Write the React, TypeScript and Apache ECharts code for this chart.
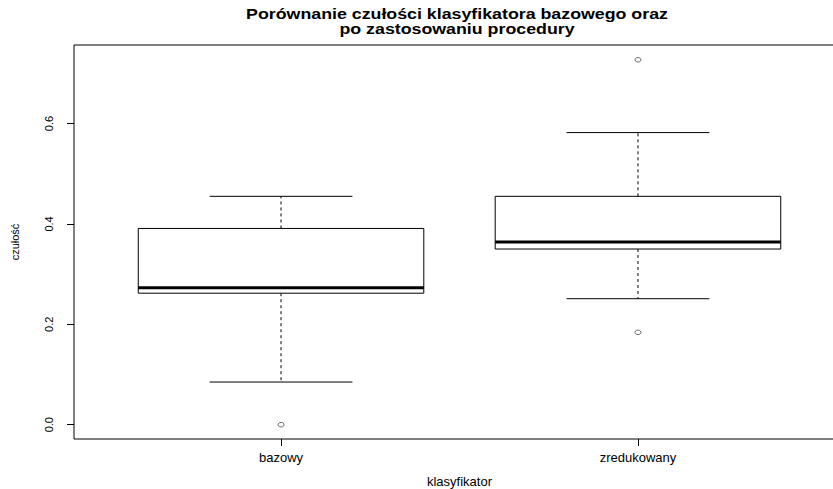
import React, { useEffect, useRef } from "react";
import * as echarts from "echarts";

const categories = ["bazowy", "zredukowany"];
const lowerWhisker = [0.085, 0.251];
const q1 = [0.262, 0.35];
const median = [0.273, 0.364];
const q3 = [0.391, 0.455];
const upperWhisker = [0.455, 0.582];
const outlierCategory = [0, 1, 1];
const outlierValue = [0.0, 0.184, 0.727];
const yTicks = [0, 0.2, 0.4, 0.6];
const titleText = "Porównanie czułości klasyfikatora bazowego oraz\npo zastosowaniu procedury";
const xName = "klasyfikator";
const yName = "czułość";

const FONT = "'Liberation Sans', Arial, Helvetica, sans-serif";

export default function App() {
  const ref = useRef<HTMLDivElement>(null);

  useEffect(() => {
    if (!ref.current) return;
    const chart = echarts.init(ref.current, undefined, { renderer: "svg" });

    const boxData = categories.map((_, i) => [
      i + 1,
      lowerWhisker[i],
      q1[i],
      median[i],
      q3[i],
      upperWhisker[i],
    ]);
    const outlierData = outlierValue.map((v, k) => [outlierCategory[k] + 1, v]);

    const renderItem = (params: any, api: any) => {
      const x = api.value(0);
      const lw = api.value(1);
      const lq = api.value(2);
      const md = api.value(3);
      const uq = api.value(4);
      const uw = api.value(5);
      const pTL = api.coord([x - 0.4, uq]);
      const pBR = api.coord([x + 0.4, lq]);
      const pMdL = api.coord([x - 0.4, md]);
      const pMdR = api.coord([x + 0.4, md]);
      const pUq = api.coord([x, uq]);
      const pUw = api.coord([x, uw]);
      const pLq = api.coord([x, lq]);
      const pLw = api.coord([x, lw]);
      const capUL = api.coord([x - 0.2, uw]);
      const capUR = api.coord([x + 0.2, uw]);
      const capLL = api.coord([x - 0.2, lw]);
      const capLR = api.coord([x + 0.2, lw]);
      const solid = { stroke: "#000", lineWidth: 1, fill: "none" };
      const dashed = { stroke: "#000", lineWidth: 1, lineDash: [3, 3] };
      return {
        type: "group",
        children: [
          {
            type: "line",
            shape: { x1: pUq[0], y1: pUq[1], x2: pUw[0], y2: pUw[1] },
            style: dashed,
          },
          {
            type: "line",
            shape: { x1: pLq[0], y1: pLq[1], x2: pLw[0], y2: pLw[1] },
            style: dashed,
          },
          {
            type: "line",
            shape: { x1: capUL[0], y1: capUL[1], x2: capUR[0], y2: capUR[1] },
            style: solid,
          },
          {
            type: "line",
            shape: { x1: capLL[0], y1: capLL[1], x2: capLR[0], y2: capLR[1] },
            style: solid,
          },
          {
            type: "rect",
            shape: {
              x: pTL[0],
              y: pTL[1],
              width: pBR[0] - pTL[0],
              height: pBR[1] - pTL[1],
            },
            style: { stroke: "#000", lineWidth: 1, fill: "#fff" },
          },
          {
            type: "line",
            shape: { x1: pMdL[0], y1: pMdL[1], x2: pMdR[0], y2: pMdR[1] },
            style: { stroke: "#000", lineWidth: 3 },
          },
        ],
      };
    };

    chart.setOption({
      animation: false,
      backgroundColor: "#fff",
      textStyle: { fontFamily: FONT, color: "#000" },
      grid: {
        left: 74,
        top: 45,
        width: 771,
        height: 394,
        outerBoundsMode: "none",
        containLabel: false,
        show: true,
        borderColor: "#000",
        borderWidth: 1,
        backgroundColor: "transparent",
      },
      graphic: [
        {
          type: "text",
          x: 457,
          y: 7,
          scaleX: 1.27,
          style: {
            text: titleText,
            textAlign: "center",
            textVerticalAlign: "top",
            font: `bold 14px ${FONT}`,
            lineHeight: 15,
            fill: "#000",
          },
        },
      ],
      xAxis: {
        type: "value",
        min: 0.42,
        max: 2.58,
        name: xName,
        nameLocation: "middle",
        nameGap: 36,
        nameTextStyle: { fontSize: 13, color: "#000", fontFamily: FONT },
        axisLine: { show: false, onZero: false },
        splitLine: { show: false },
        axisTick: {
          show: true,
          customValues: [1, 2],
          length: 7,
          lineStyle: { color: "#000", width: 1 },
        },
        axisLabel: {
          customValues: [1, 2],
          formatter: (v: number) => categories[Math.round(v) - 1],
          fontSize: 13,
          color: "#000",
          margin: 12,
          fontFamily: FONT,
        },
      },
      yAxis: {
        type: "value",
        min: -0.0285,
        max: 0.7565,
        name: yName,
        nameLocation: "middle",
        nameRotate: 90,
        nameGap: 54,
        nameTextStyle: { fontSize: 11, color: "#000", fontFamily: FONT },
        axisLine: { show: false, onZero: false },
        splitLine: { show: false },
        axisTick: {
          show: true,
          customValues: yTicks,
          length: 7,
          lineStyle: { color: "#000", width: 1 },
        },
        axisLabel: {
          customValues: yTicks,
          rotate: 90,
          formatter: (v: number) => v.toFixed(1),
          fontSize: 11,
          color: "#000",
          margin: 20,
          fontFamily: FONT,
        },
      },
      series: [
        {
          type: "custom",
          renderItem,
          data: boxData,
          encode: { x: 0, y: [1, 2, 3, 4, 5] },
          silent: true,
          clip: false,
        },
        {
          type: "scatter",
          data: outlierData,
          symbol: "circle",
          symbolSize: [6, 4.5],
          itemStyle: { color: "#fff", borderColor: "#000", borderWidth: 0.7 },
          silent: true,
          clip: false,
        },
      ],
    });

    return () => chart.dispose();
  }, []);

  return (
    <div
      ref={ref}
      style={{ position: "fixed", left: 0, top: 0, width: 833, height: 489 }}
    />
  );
}
